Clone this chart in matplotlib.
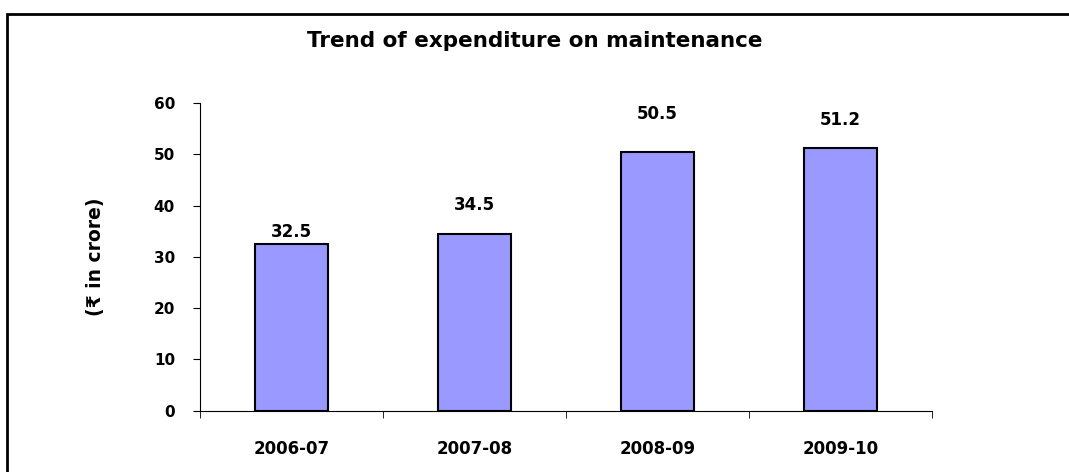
import matplotlib.pyplot as plt
from matplotlib.patches import Rectangle

plt.rcParams['font.family'] = ['DejaVu Sans']
plt.rcParams['font.weight'] = 'bold'

# data
years = ['2006-07', '2007-08', '2008-09', '2009-10']
expenditure = [32.5, 34.5, 50.5, 51.2]
label_offsets = [9, 21, 27, 20]  # points above bar top, as placed in the original

fig = plt.figure(figsize=(10.69, 4.72), dpi=100)
ax = fig.add_axes([0.1871, 0.1299, 0.6847, 0.6519])

# outer chart frame (runs off right and bottom like the original)
fig.patches.append(Rectangle((7 / 1069, -0.05), 1.1, 0.9703 + 0.05,
                             transform=fig.transFigure, fill=False,
                             edgecolor='black', linewidth=2))

x = range(len(years))
bars = ax.bar(x, expenditure, width=0.4, color='#9999ff',
              edgecolor='black', linewidth=1.5)

for b, v, off in zip(bars, expenditure, label_offsets):
    ax.annotate(f'{v}', (b.get_x() + b.get_width() / 2, v),
                xytext=(0, off), textcoords='offset points',
                ha='center', va='center', fontsize=12, fontweight='bold')

ax.set_xlim(-0.5, len(years) - 0.5)
ax.set_ylim(0, 60)
ax.set_yticks(range(0, 61, 10))
ax.set_xticks(x)
ax.set_xticklabels(years, fontsize=12, fontweight='bold')
ax.set_xticks([i - 0.5 for i in range(len(years) + 1)], minor=True)
ax.tick_params(axis='x', which='major', length=0, pad=21)
ax.tick_params(axis='x', which='minor', length=5, direction='out')
ax.tick_params(axis='y', labelsize=11, length=5, pad=13)
for lbl in ax.get_yticklabels():
    lbl.set_fontweight('bold')

ax.spines['top'].set_visible(False)
ax.spines['right'].set_visible(False)

ax.set_ylabel('(₹ in crore)', fontsize=13.5, fontweight='bold', labelpad=35)
fig.text(0.5, 1 - 41 / 472, 'Trend of expenditure on maintenance',
         ha='center', va='center', fontsize=15.5, fontweight='bold')

plt.savefig('out.png', dpi=100)
